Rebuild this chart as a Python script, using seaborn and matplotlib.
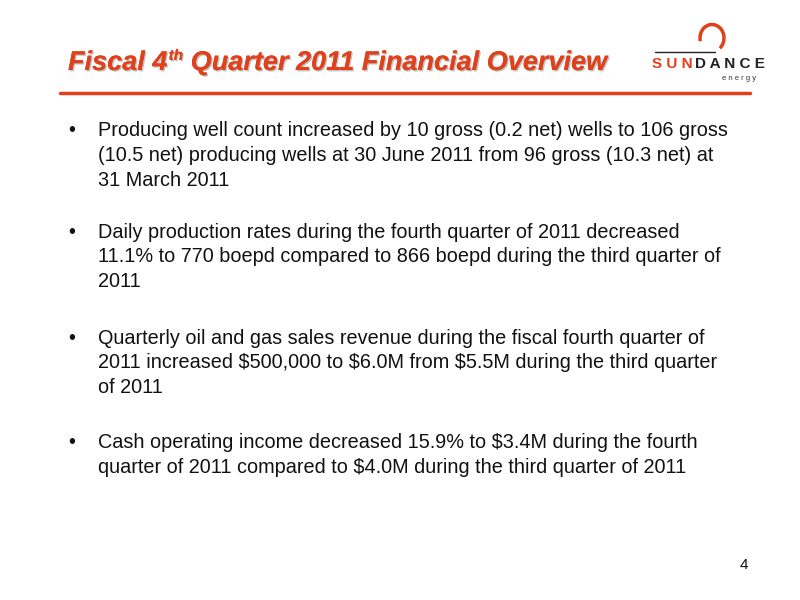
import matplotlib
matplotlib.use("Agg")
import matplotlib.pyplot as plt
import seaborn as sns
import matplotlib.patheffects as pe
from matplotlib.patches import Arc

sns.set_theme(style="white")
plt.rcParams['font.family'] = ['Liberation Sans', 'DejaVu Sans']

title_parts = ["Fiscal 4", "th", " Quarter 2011 Financial Overview"]
bullets = [
    ["Producing well count increased by 10 gross (0.2 net) wells to 106 gross",
     "(10.5 net) producing wells at 30 June 2011 from 96 gross (10.3 net) at",
     "31 March 2011"],
    ["Daily production rates during the fourth quarter of 2011 decreased",
     "11.1% to 770 boepd compared to 866 boepd during the third quarter of",
     "2011"],
    ["Quarterly oil and gas sales revenue during the fiscal fourth quarter of",
     "2011 increased $500,000 to $6.0M from $5.5M during the third quarter",
     "of 2011"],
    ["Cash operating income decreased 15.9% to $3.4M during the fourth",
     "quarter of 2011 compared to $4.0M during the third quarter of 2011"],
]
bullet_tops = [131, 232, 338, 443]
line_gap = 24.8
page_num = "4"

W, H = 800, 600
fig = plt.figure(figsize=(8, 6), dpi=100)
fig.patch.set_facecolor("white")
red = "#e0401a"

def fx(x): return x / W
def fy(y): return 1 - y / H

shadow = [pe.withSimplePatchShadow(offset=(1, -1), shadow_rgbFace="#999999", alpha=0.6), pe.Normal()]
fig.canvas.draw()
r = fig.canvas.get_renderer()
x = 68
sizes = [19.5, 11, 19.5]
dys = [0, -10, 0]
for part, s, dy in zip(title_parts, sizes, dys):
    t = fig.text(fx(x), fy(70 + dy), part, fontsize=s, fontweight="bold", style="italic",
                 color=red, va="baseline", ha="left", path_effects=shadow)
    bb = t.get_window_extent(renderer=r)
    x += bb.width + (1 if part == "Fiscal 4" else 0)

# logo
fig.text(fx(652), fy(68), "S U N", fontsize=11, fontweight="bold", color=red, va="baseline", ha="left")
fig.text(fx(695), fy(68), "D A N C E", fontsize=11, fontweight="bold", color="#222222", va="baseline", ha="left")
fig.text(fx(722), fy(80), "e n e r g y", fontsize=5.5, color="#333333", va="baseline", ha="left")
fig.lines.append(plt.Line2D([fx(655), fx(715)], [fy(52), fy(52)], transform=fig.transFigure, color="#222222", lw=1))
fig.patches.append(Arc((fx(712), fy(38)), 0.03, 0.045, theta1=-60, theta2=200, transform=fig.transFigure, color=red, lw=2.5))

# rule
fig.lines.append(plt.Line2D([fx(60), fx(750)], [fy(93), fy(93)], transform=fig.transFigure, color=red, lw=2.5))

for top, lines in zip(bullet_tops, bullets):
    fig.text(fx(68), fy(top), "•", fontsize=14.3, color="#111111", va="center", ha="left")
    for i, ln in enumerate(lines):
        fig.text(fx(98), fy(top + i * line_gap), ln, fontsize=14.3, color="#111111", va="center", ha="left")

fig.text(fx(748), fy(565), page_num, fontsize=11, color="#111111", va="center", ha="right")
fig.savefig("out.png", dpi=100, facecolor="white")
